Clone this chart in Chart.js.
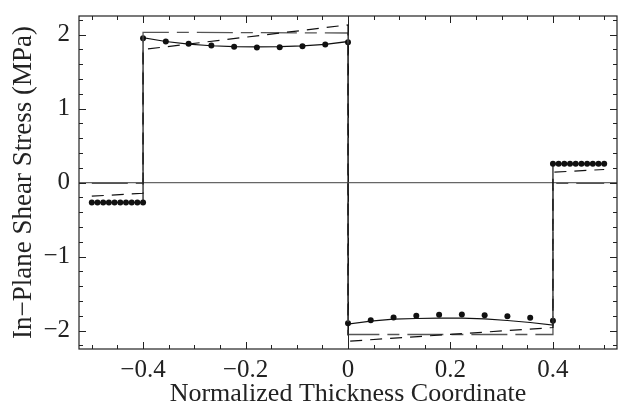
<!DOCTYPE html>
<html lang="en">
<head>
    <meta charset="UTF-8">
    <title>In-Plane Shear Stress</title>
    <script src="https://cdn.jsdelivr.net/npm/chart.js"></script>
    <style>
    body, html {
        margin: 0;
        padding: 0;
        background: white;
    }
    #chart-container {
        width: 621px;
        height: 410px;
    }
    </style>
</head>
<body>
<div id="chart-container">
    <canvas id="stress" width="621" height="410"></canvas>
</div>
<script>
    // sampled points (dots)
    const dotX = [
        -0.5, -0.4889, -0.4778, -0.4667, -0.4556, -0.4444, -0.4333, -0.4222, -0.4111, -0.4,
        -0.4, -0.3556, -0.3111, -0.2667, -0.2222, -0.1778, -0.1333, -0.0889, -0.0444, 0.0,
        0.0, 0.0444, 0.0889, 0.1333, 0.1778, 0.2222, 0.2667, 0.3111, 0.3556, 0.4,
        0.4, 0.4111, 0.4222, 0.4333, 0.4444, 0.4556, 0.4667, 0.4778, 0.4889, 0.5
    ];
    const dotY = [
        -0.27, -0.27, -0.27, -0.27, -0.27, -0.27, -0.27, -0.27, -0.27, -0.27,
        1.95, 1.905, 1.874, 1.851, 1.834, 1.824, 1.828, 1.842, 1.865, 1.896,
        -1.901, -1.861, -1.824, -1.802, -1.788, -1.784, -1.793, -1.807, -1.828, -1.869,
        0.252, 0.252, 0.252, 0.252, 0.252, 0.252, 0.252, 0.252, 0.252, 0.252
    ];

    // solid curve (steps with vertical jumps)
    const solidX = [
        -0.5, -0.4,
        -0.4, -0.3556, -0.3111, -0.2667, -0.2222, -0.1778, -0.1333, -0.0889, -0.0444, 0.0,
        0.0, 0.0444, 0.0889, 0.1333, 0.1778, 0.2222, 0.2667, 0.3111, 0.3556, 0.4,
        0.4, 0.5
    ];
    const solidY = [
        -0.27, -0.27,
        1.958, 1.905, 1.87, 1.848, 1.836, 1.832, 1.835, 1.846, 1.866, 1.905,
        -1.914, -1.874, -1.847, -1.838, -1.833, -1.833, -1.842, -1.865, -1.892, -1.928,
        0.252, 0.252
    ];

    // dashed line
    const dashX = [-0.5, -0.4, -0.4, 0.0, 0.0, 0.4, 0.4, 0.5];
    const dashY = [-0.185, -0.145, 1.797, 2.13, -2.145, -1.96, 0.139, 0.176];

    // long dash-dot line
    const dashDotX = [-0.5, -0.4, -0.4, 0.0, 0.0, 0.4, 0.4, 0.5];
    const dashDotY = [-0.01, -0.01, 2.03, 2.02, -2.054, -2.054, -0.012, -0.012];

    const xTicks = [-0.4, -0.2, 0, 0.2, 0.4];
    const yTicks = [-2, -1, 0, 1, 2];
    const xMinor = [-0.5, -0.45, -0.35, -0.3, -0.25, -0.15, -0.1, -0.05, 0.05, 0.1, 0.15, 0.25, 0.3, 0.35, 0.45, 0.5];
    const yMinor = [-2.2, -1.8, -1.6, -1.4, -1.2, -0.8, -0.6, -0.4, -0.2, 0.2, 0.4, 0.6, 0.8, 1.2, 1.4, 1.6, 1.8, 2.2];

    function pts(xs, ys) {
        return xs.map((x, i) => ({x: x, y: ys[i]}));
    }
    function fmt(v) {
        if (Math.abs(v) < 1e-9) return '0';
        const s = String(Math.abs(v));
        return (v < 0 ? '\u2212' : '') + s;
    }

    // frame with inward ticks on all four sides
    const frameTicks = {
        id: 'frameTicks',
        afterDatasetsDraw(chart) {
            const ctx = chart.ctx;
            const a = chart.chartArea;
            const xs = chart.scales.x, ys = chart.scales.y;
            ctx.save();
            ctx.strokeStyle = '#222';
            ctx.lineWidth = 1;
            ctx.beginPath();
            const tick = (v, len, horiz) => {
                if (horiz) {
                    const p = Math.round(xs.getPixelForValue(v)) + 0.5;
                    ctx.moveTo(p, a.bottom); ctx.lineTo(p, a.bottom - len);
                    ctx.moveTo(p, a.top); ctx.lineTo(p, a.top + len);
                } else {
                    const p = Math.round(ys.getPixelForValue(v)) + 0.5;
                    ctx.moveTo(a.left, p); ctx.lineTo(a.left + len, p);
                    ctx.moveTo(a.right, p); ctx.lineTo(a.right - len, p);
                }
            };
            xTicks.forEach(v => tick(v, 7, true));
            xMinor.forEach(v => tick(v, 4, true));
            yTicks.forEach(v => tick(v, 7, false));
            yMinor.forEach(v => tick(v, 4, false));
            ctx.stroke();
            ctx.lineWidth = 1.2;
            ctx.strokeRect(a.left, a.top, a.right - a.left, a.bottom - a.top);
            ctx.restore();
        }
    };

    const ctx = document.getElementById('stress').getContext('2d');
    const serif = 'Liberation Serif';

    window.stressChart = new Chart(ctx, {
        type: 'scatter',
        data: {
            datasets: [
                {
                    label: 'Dashed',
                    data: pts(dashX, dashY),
                    showLine: true,
                    borderColor: '#111',
                    borderWidth: 1.2,
                    borderDash: [12, 8],
                    pointRadius: 0,
                    fill: false
                },
                {
                    label: 'Dash-dot',
                    data: pts(dashDotX, dashDotY),
                    showLine: true,
                    borderColor: '#555',
                    borderWidth: 1.3,
                    borderDash: [36, 8, 12, 8],
                    pointRadius: 0,
                    fill: false
                },
                {
                    label: 'Solid',
                    data: pts(solidX, solidY),
                    showLine: true,
                    borderColor: '#111',
                    borderWidth: 1.2,
                    pointRadius: 0,
                    fill: false
                },
                {
                    label: 'Points',
                    data: pts(dotX, dotY),
                    showLine: false,
                    pointRadius: 3,
                    pointBackgroundColor: '#111',
                    pointBorderWidth: 0
                }
            ]
        },
        options: {
            responsive: false,
            animation: false,
            layout: {
                padding: {top: 16, right: 4, left: 0, bottom: 0}
            },
            plugins: {
                legend: {display: false},
                tooltip: {enabled: false}
            },
            scales: {
                x: {
                    type: 'linear',
                    min: -0.525,
                    max: 0.525,
                    afterBuildTicks: (s) => { s.ticks = xTicks.map(v => ({value: v})); },
                    afterFit: (s) => { s.height = 61; s.paddingLeft = 0; s.paddingRight = 0; },
                    border: {display: false},
                    grid: {
                        drawTicks: false,
                        color: (c) => (c.tick && c.tick.value === 0) ? '#222' : 'rgba(0,0,0,0)',
                        lineWidth: 1
                    },
                    ticks: {
                        padding: 6,
                        color: '#222',
                        font: {family: serif, size: 25},
                        callback: (v) => fmt(v)
                    },
                    title: {
                        display: true,
                        text: 'Normalized Thickness Coordinate',
                        color: '#222',
                        font: {family: serif, size: 26},
                        padding: {top: 0, bottom: 0}
                    }
                },
                y: {
                    type: 'linear',
                    min: -2.25,
                    max: 2.25,
                    afterBuildTicks: (s) => { s.ticks = yTicks.map(v => ({value: v})); },
                    afterFit: (s) => { s.width = 79; s.paddingTop = 0; s.paddingBottom = 0; },
                    border: {display: false},
                    grid: {
                        drawTicks: false,
                        color: (c) => (c.tick && c.tick.value === 0) ? '#666' : 'rgba(0,0,0,0)',
                        lineWidth: 1.2
                    },
                    ticks: {
                        padding: 9,
                        color: '#222',
                        font: {family: serif, size: 25},
                        callback: (v) => fmt(v)
                    },
                    title: {
                        display: true,
                        text: 'In\u2212Plane Shear Stress (MPa)',
                        color: '#222',
                        font: {family: serif, size: 27},
                        padding: {top: 8, bottom: 0}
                    }
                }
            }
        },
        plugins: [frameTicks]
    });
</script>
</body>
</html>
